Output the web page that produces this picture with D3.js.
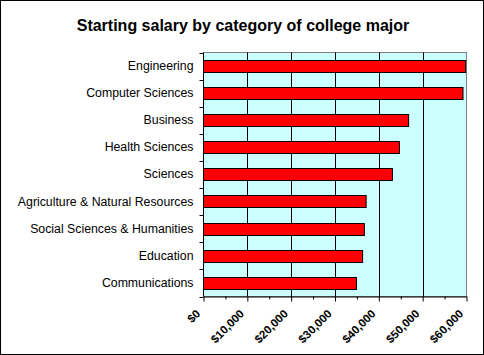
<!DOCTYPE html>
<html><head><meta charset="utf-8">
<script src="https://cdn.jsdelivr.net/npm/d3@7"></script>
<style>html,body{margin:0;padding:0;background:#fff}svg{display:block}</style>
</head><body>
<script>
const categories = ["Engineering","Computer Sciences","Business","Health Sciences","Sciences","Agriculture & Natural Resources","Social Sciences & Humanities","Education","Communications"];
const salaries = [59800,59200,46800,44700,43100,37100,36700,36300,34900];
const tickValues = [0,10000,20000,30000,40000,50000,60000];
const title = "Starting salary by category of college major";

const W=484,H=355;
const svg=d3.select("body").append("svg").attr("width",W).attr("height",H);
svg.append("rect").attr("x",0.5).attr("y",0.5).attr("width",W-1).attr("height",H-1).attr("fill","#fff").attr("stroke","#000");
const L=203.5,R=466.5,T=52.5,B=296.5;
const x=d3.scaleLinear().domain([0,60000]).range([L,R]);
const y=d3.scaleBand().domain(categories).range([T,B]).paddingInner(0.545).paddingOuter(0.2725);
const yb=d3.scaleBand().domain(categories).range([T,B]);

svg.append("rect").attr("x",L).attr("y",T).attr("width",R-L).attr("height",B-T).attr("fill","#CCFFFF").attr("stroke","#808080");
// gridlines
svg.append("g").selectAll("line").data(tickValues.slice(1,-1)).join("line")
 .attr("x1",d=>Math.round(x(d))+0.5).attr("x2",d=>Math.round(x(d))+0.5).attr("y1",T).attr("y2",B).attr("stroke","#000");
// bars
svg.append("g").selectAll("rect").data(categories).join("rect")
 .attr("x",L).attr("y",d=>Math.round(y(d))+0.5).attr("width",(d,i)=>x(salaries[i])-L).attr("height",Math.round(y.bandwidth()))
 .attr("fill","#FF0000").attr("stroke","#000");
// y axis
const ya=svg.append("g").attr("transform",`translate(${L},0)`).call(d3.axisLeft(yb).tickSize(0).tickPadding(10));
ya.select(".domain").remove();
ya.selectAll("text").attr("font-family","Arial, Liberation Sans, sans-serif").attr("font-size",12.3).attr("fill","#000");
svg.append("line").attr("x1",L).attr("x2",L).attr("y1",T).attr("y2",B).attr("stroke","#000");
svg.append("g").selectAll("line").data(d3.range(categories.length+1)).join("line")
 .attr("x1",L-4).attr("x2",L).attr("y1",d=>Math.round(T+d*yb.step())+0.5).attr("y2",d=>Math.round(T+d*yb.step())+0.5).attr("stroke","#000");
// x axis
const minor=d3.range(5000,60000,10000);
svg.append("g").attr("transform",`translate(0,${B})`).call(d3.axisBottom(x).tickValues(minor).tickSize(3).tickFormat("")).select(".domain").remove();
const xa=svg.append("g").attr("transform",`translate(0,${B})`).call(d3.axisBottom(x).tickValues(tickValues).tickSize(5).tickSizeOuter(0).tickFormat(d3.format("$,")));
xa.select(".domain").attr("stroke","#000");
xa.selectAll("text").attr("font-family","Arial, Liberation Sans, sans-serif").attr("font-size",11.5).attr("font-weight","bold").attr("fill","#000")
 .attr("text-anchor","end").attr("x",0).attr("y",0).attr("dy",0).attr("transform","translate(-3,18) rotate(-45)");
svg.append("text").attr("x",243).attr("y",31).attr("text-anchor","middle").attr("font-family","Arial, Liberation Sans, sans-serif").attr("font-size",16).attr("font-weight","bold").text(title);
</script>
</body></html>
